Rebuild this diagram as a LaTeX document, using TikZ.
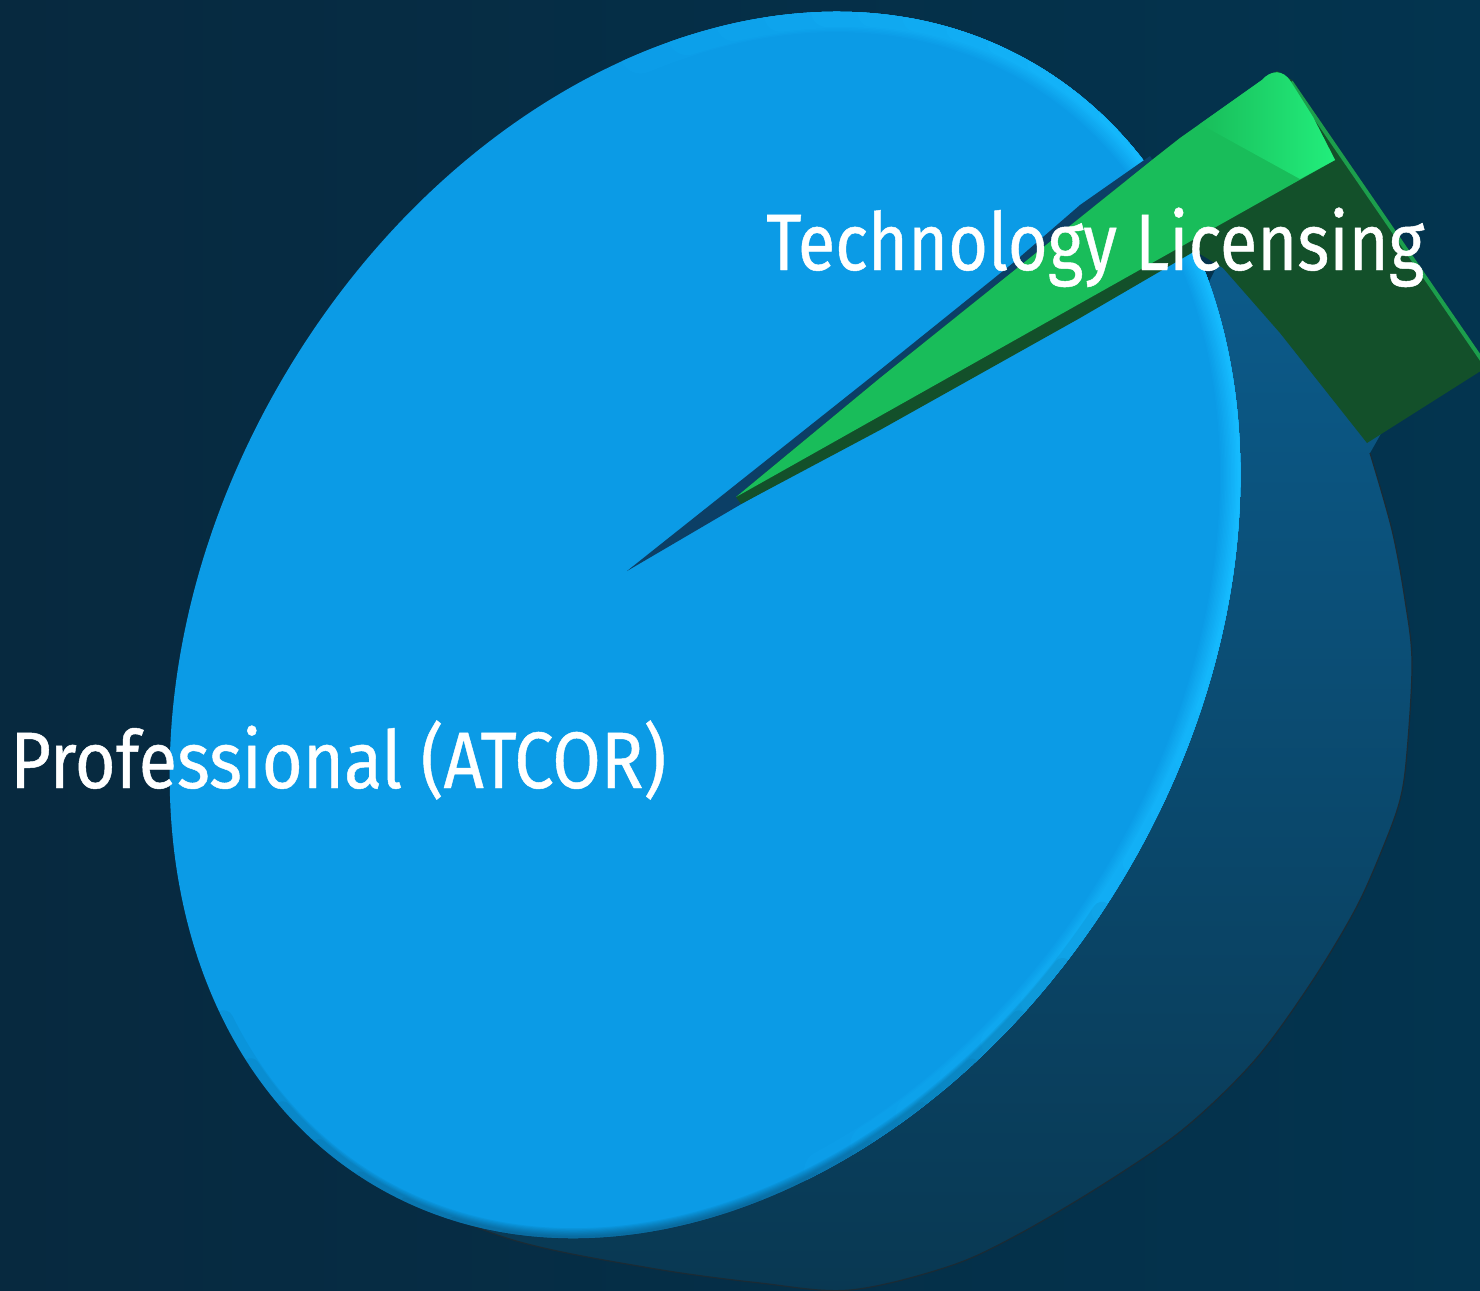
\documentclass[tikz,border=0pt]{standalone}
\usepackage{fontspec}
\setmainfont{Fira Sans}
\newfontfamily\lblfont{Fira Sans}[FakeBold=0.6]
\definecolor{bgL}{HTML}{07293F}
\definecolor{bgR}{HTML}{03344F}
\definecolor{facecol}{HTML}{0B9BE6}
\definecolor{rimcol}{HTML}{16BCFF}
\definecolor{sideT}{HTML}{0C5D8E}
\definecolor{sideM}{HTML}{0A4A70}
\definecolor{sideB}{HTML}{093852}
\definecolor{slotcol}{HTML}{0C3F66}
\definecolor{gTop}{HTML}{19BD5A}
\definecolor{gDark}{HTML}{13502A}
\definecolor{gLight}{HTML}{22EE7C}
\definecolor{gMid}{HTML}{1C9E4C}
\definecolor{edgecol}{HTML}{1A2B35}
\def\sidepts{(380,1188) (513,1240) (650,1268) (760,1283) (850,1290) (950,1266) (1021,1233) (1110,1180) (1186,1127) (1255,1060) (1311,983) (1355,910) (1382,850) (1400,800) (1407,752) (1412,662) (1405,600) (1392,530) (1370,453)}
\begin{document}
\begin{tikzpicture}[x=1pt,y=-1pt,
  labeltext/.style={text=white, inner sep=0pt, anchor=base west, font=\lblfont\fontsize{80}{96}\selectfont},
  faceell/.style={rotate around={59.5:(705,625)}}]
\useasboundingbox (0,0) rectangle (1480,1290);
\shade[left color=bgL, right color=bgR] (0,0) rectangle (1480,1290);

% side wall of the pie
\begin{scope}
  \clip plot[smooth,tension=0.55] coordinates {\sidepts} -- (1400,400) -- (1350,250) -- (1250,200) -- (1150,400) -- cycle;
  \shade[top color=sideT, middle color=sideM, bottom color=sideB] (0,200) rectangle (1480,1295);
\end{scope}
\draw[edgecol, line width=1.2] plot[smooth,tension=0.55] coordinates {\sidepts};

% front face
\fill[facecol, faceell] (705,625) ellipse [x radius=650.7, y radius=489];
\begin{scope}
  \clip[faceell] (705,625) ellipse [x radius=650.7, y radius=489];
  \begin{scope}[faceell, line cap=round]
    \foreach \i in {1,...,14} {
      \pgfmathsetmacro{\hs}{92-5*\i}
      \pgfmathsetmacro{\ta}{42-\hs}
      \pgfmathsetmacro{\tb}{42+\hs}
      \pgfmathsetmacro{\lw}{44-2.8*\i}
      \pgfmathsetmacro{\cm}{7*\i}
      \draw[rimcol!\cm!facecol, line width=\lw] (705,625) ++(\ta:650.7 and 489) arc[start angle=\ta, end angle=\tb, x radius=650.7, y radius=489];
    }
    \foreach \i in {1,...,8} {
      \pgfmathsetmacro{\hs}{62-6*\i}
      \pgfmathsetmacro{\ta}{150-\hs}
      \pgfmathsetmacro{\tb}{150+\hs}
      \pgfmathsetmacro{\lw}{22-2.2*\i}
      \draw[sideB, opacity=0.07, line width=\lw] (705,625) ++(\ta:650.7 and 489) arc[start angle=\ta, end angle=\tb, x radius=650.7, y radius=489];
    }
  \end{scope}
\end{scope}

% slot left by the exploded slice
\fill[slotcol] (627,571) -- (880,370) -- (1013,263) -- (1080,205) -- (1150,156) -- (1165,180) -- (1195,250) -- (743,503) -- cycle;

% green slice: dark sides
\fill[gDark] (741,504) -- (880,430) -- (1080,318) -- (1195,251) -- (1223,268) -- (1280,333) -- (1367,443) -- (1487,367) -- (1292,80) -- (1277,71) -- (1180,138) -- (1152,160) -- (880,378) -- (736,497) -- cycle;
\draw[gMid, line width=4] (1291,82) -- (1486,366);
% green slice: top face
\fill[gTop] (736,497) -- (880,378) -- (1152,160) -- (1180,138) -- (1262,80) .. controls (1271,70) and (1283,69) .. (1291,82) -- (1313,117) -- (1335,160) -- cycle;
\shade[left color=gTop, right color=gLight] (1200,124) -- (1262,80) .. controls (1271,70) and (1283,69) .. (1291,82) -- (1313,117) -- (1335,160) -- (1300,179) -- cycle;

% labels
\node[labeltext] (prof) at (10,788) {\resizebox{656pt}{\height}{Professional (ATCOR)}};
\node[labeltext] (tech) at (766,270) {\resizebox{658pt}{\height}{Technology Licensing}};
\end{tikzpicture}
\end{document}
